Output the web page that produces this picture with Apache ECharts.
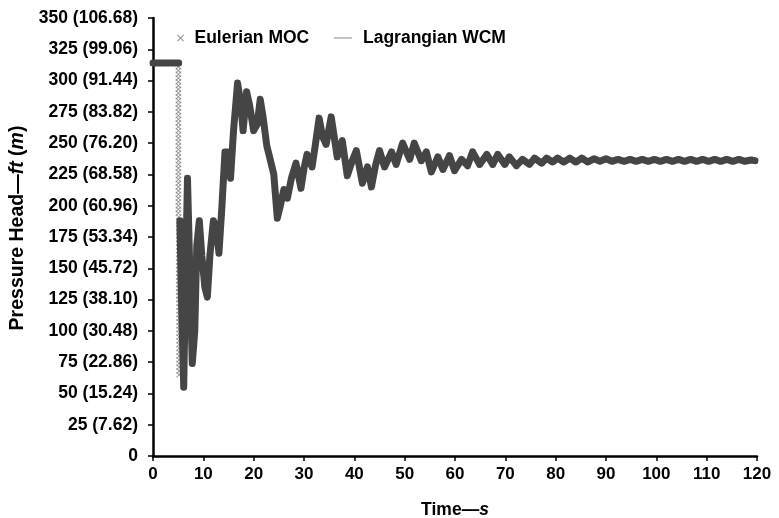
<!DOCTYPE html>
<html><head><meta charset="utf-8">
<script src="https://cdn.jsdelivr.net/npm/echarts@6/dist/echarts.min.js"></script>
<style>html,body{margin:0;padding:0;background:#fff}#c{width:779px;height:518px}</style>
</head><body><div id="c"></div>
<script>
// Tick labels
const yTickLabels = ['0','25 (7.62)','50 (15.24)','75 (22.86)','100 (30.48)','125 (38.10)','150 (45.72)','175 (53.34)','200 (60.96)','225 (68.58)','250 (76.20)','275 (83.82)','300 (91.44)','325 (99.06)','350 (106.68)'];
const xTickLabels = ['0','10','20','30','40','50','60','70','80','90','100','110','120'];

// Lagrangian WCM (time in s, head in ft); null = gap during the sudden drop
const lagTime = [0,5.1,5.2,5.35,5.7,6.1,6.5,6.85,7.3,7.8,8.3,8.7,9.2,9.7,10.3,10.8,11.3,12.0,12.6,13.1,13.7,14.3,14.8,15.4,16.0,16.8,17.4,17.9,18.6,19.2,20.0,20.7,21.3,21.9,22.6,23.4,24.0,24.7,25.3,26.0,26.7,27.5,28.4,29.4,30.0,30.6,31.6,32.3,33.0,33.7,34.4,35.4,36.0,36.6,37.6,38.6,39.5,40.4,41.0,41.6,42.6,43.4,44.2,45.0,46.0,47.4,48.3,49.6,51.0,51.9,53.3,54.3,55.3,56.6,57.6,58.9,59.9,61.3,62.5,63.5,64.9,66.3,67.5,68.5,69.9,70.8,72.2,73.4,74.8,75.8,77.2,78.2,79.4,80.4,81.6,82.8,84.0,85.2,86.4,87.6,88.8,90.0,91.2,92.4,93.6,94.8,96.0,97.2,98.4,99.6,100.8,102.0,103.2,104.4,105.6,106.8,108.0,109.2,110.4,111.6,112.8,114.0,115.2,116.4,117.6,118.8,119.6];
const lagHead = [314,314,null,188,118,55,150,222,150,74,100,168,188,160,135,127,160,188,183,162,200,243,243,222,260,298,283,260,291,280,260,265,285,270,248,235,225,190,200,213,206,222,234,214,230,241,231,250,270,255,249,271,255,239,252,224,235,244,231,218,231,215,232,244,231,243,233,250,237,250,236,243,227,239,229,240,228,237,232,243,233,241,233,241,233,239,232,237,233,238,234,238,235,238,235,238,235,238,235,237.5,235.5,237.5,235.5,237,235.5,237,235.5,237,235.5,237,235.5,237,235.5,237,235.5,237,235.5,237,235.5,237,235.5,237,235.5,237,235.5,236.5,236];

// Eulerian MOC: points of the sudden drop (one column of points per time)
const eulerDropTimes = [5.05,5.12,5.2];
const eulerDropHeads = [
  [311,308,305,302,299,296,293,290,287,284,281,278,275,272,269,266,263,260,257,254,251,248,245,242,239,236,233,230,227,224,221,218,215,212,209,206,203,200,197,194],
  [191,188,185,182,179,176,173,170,167,164,161,158,155,152,149,146,143,140,137,134,131,128,125],
  [122,119,116,113,110,107,104,101,98,95,92,89,86,83,80,77,74,71,68,65]
];

const FONT = "'Liberation Sans', Arial, Helvetica, sans-serif";
const lagData = lagTime.map((t,i) => [t, lagHead[i] === null ? null : lagHead[i]]);
const eulerData = [];
eulerDropTimes.forEach((t,k) => eulerDropHeads[k].forEach(v => eulerData.push([t, v])));
lagTime.forEach((t,i) => { if (lagHead[i] !== null) eulerData.push([t, lagHead[i]]); });

const XSYM = 'path://M0,1L1,0L5,4L9,0L10,1L6,5L10,9L9,10L5,6L1,10L0,9L4,5Z';
const bold = (size, italic) => ({fontFamily:FONT, fontWeight:'bold', fontStyle: italic ? 'italic' : 'normal', fontSize:size, color:'#000'});

const chart = echarts.init(document.getElementById('c'), null, {renderer:'canvas'});
chart.setOption({
  animation: false,
  backgroundColor: '#fff',
  textStyle: {fontFamily: FONT},
  grid: {left: 153, right: 22, top: 18, bottom: 62, containLabel: false, outerBoundsMode: 'none'},
  legend: [
    {data: [{name:'Eulerian MOC', icon: XSYM, itemStyle:{color:'#777'}}],
     left: 172, top: 24, itemWidth: 18, itemHeight: 7, itemGap: 0,
     textStyle: bold(17.5)},
    {data: [{name:'Lagrangian WCM', icon: 'path://M0,0H20V1.3H0Z', itemStyle:{color:'#999'}}],
     left: 329, top: 24, itemWidth: 18, itemHeight: 7, itemGap: 0,
     textStyle: Object.assign(bold(17.5), {padding:[0,0,0,6]})}
  ],
  xAxis: {
    type: 'value', min: 0, max: 120, interval: 10,
    name: '{b|Time—}{i|s}', nameLocation: 'middle', nameGap: 45,
    nameTextStyle: {rich: {b: bold(17.5), i: bold(17.5, true)}},
    axisLine: {lineStyle:{color:'#000', width:2.5}},
    axisTick: {show:true, inside:false, length:5, lineStyle:{color:'#000', width:1.5}},
    axisLabel: Object.assign(bold(17), {margin:10, formatter: v => xTickLabels[Math.round(v/10)]}),
    splitLine: {show:false}
  },
  yAxis: {
    type: 'value', min: 0, max: 350, interval: 25,
    name: '{b|Pressure Head—}{i|ft}{b| (}{i|m}{b|)}', nameLocation: 'middle', nameGap: 123, nameRotate: 90,
    nameTextStyle: {padding:[0,0,0,18], rich: {b: bold(19.5), i: bold(19.5, true)}},
    axisLine: {show:true, lineStyle:{color:'#000', width:2.5}},
    axisTick: {show:true, inside:false, length:5, lineStyle:{color:'#000', width:1.5}},
    axisLabel: Object.assign(bold(17.5), {margin:15, formatter: v => yTickLabels[Math.round(v/25)]}),
    splitLine: {show:false}
  },
  series: [
    {name:'Eulerian MOC', type:'scatter', data: eulerData, symbol: XSYM, symbolSize: 6,
     itemStyle:{color:'#7a7a7a'}, z: 2},
    {name:'Lagrangian WCM', type:'line', data: lagData, showSymbol:false, connectNulls:false,
     lineStyle:{color:'#454545', width:7, join:'round', cap:'round'}, itemStyle:{color:'#454545'}, z: 3}
  ]
});
</script>
</body></html>
